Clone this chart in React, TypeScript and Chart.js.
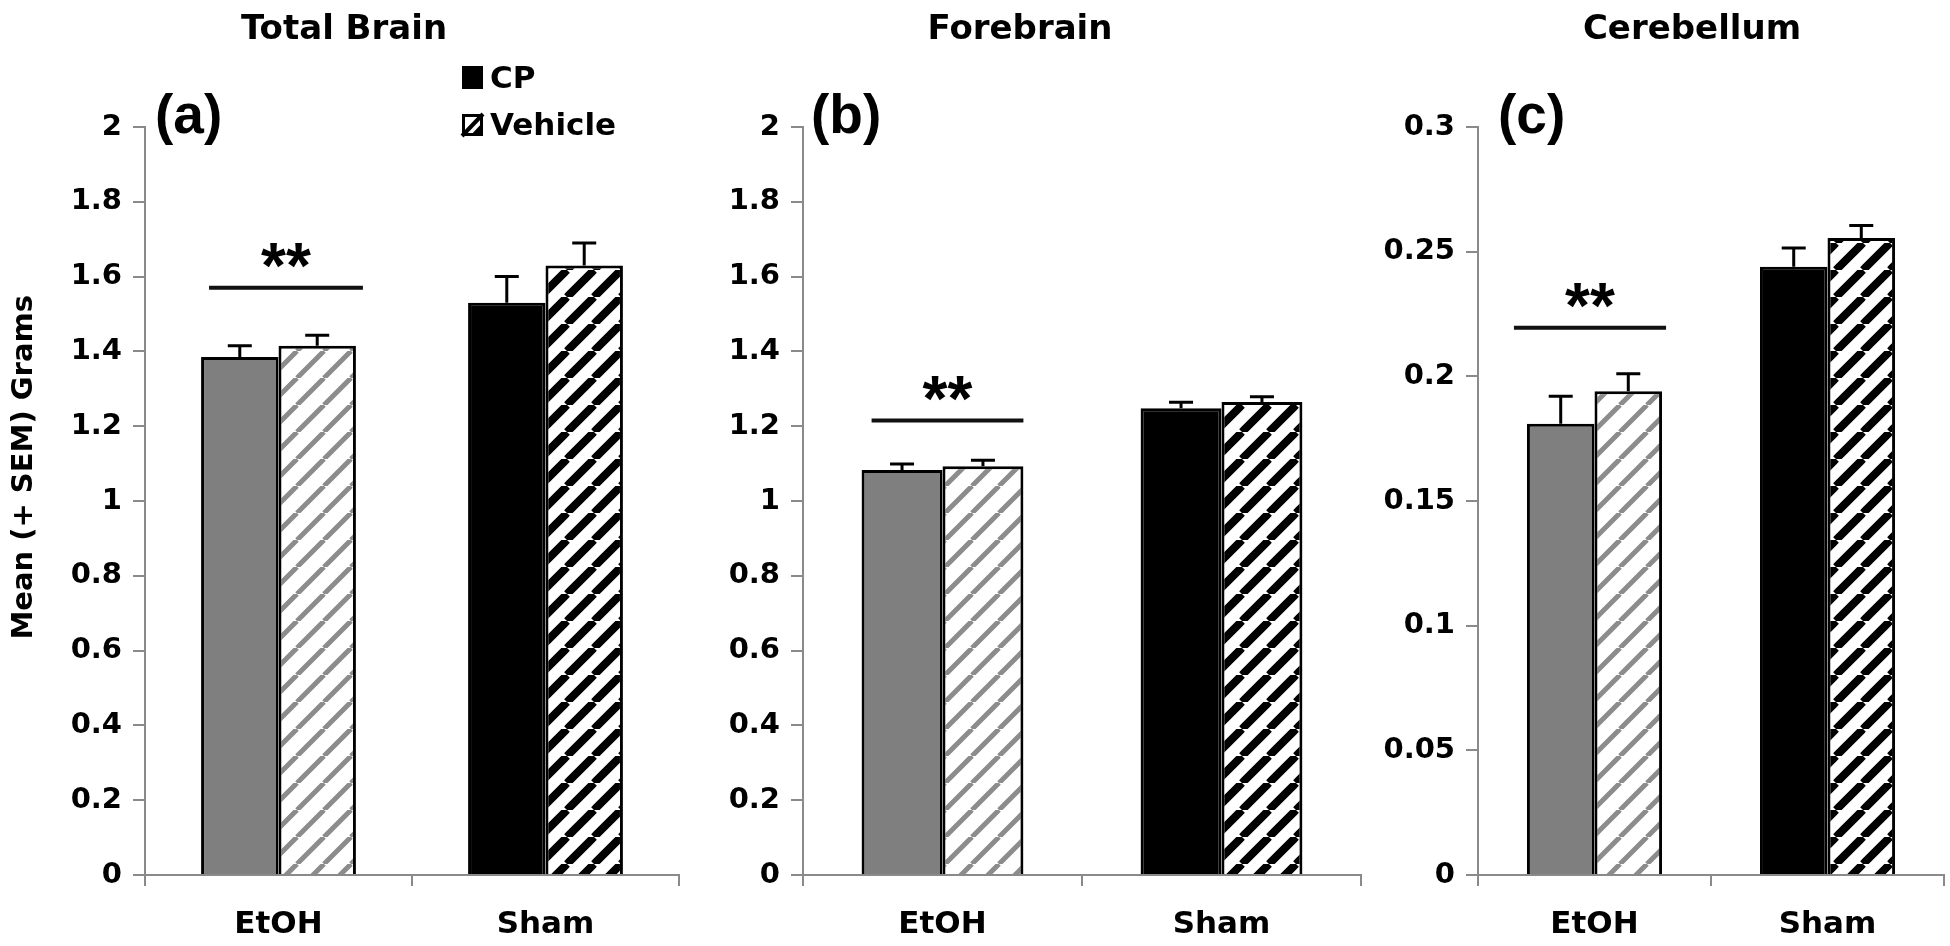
import React, { useEffect, useRef } from "react";
import { Chart, registerables } from "chart.js";

Chart.register(...registerables);

// ---------- data ----------
const categories = ["EtOH", "Sham"];
const seriesLabels = ["CP", "Vehicle"];
const panelTitles = ["Total Brain", "Forebrain", "Cerebellum"];
const panelLetters = ["(a)", "(b)", "(c)"];
const yAxisTitle = "Mean (+ SEM) Grams";
const sigLabel = "**";

const brainTicks = [0, 0.2, 0.4, 0.6, 0.8, 1, 1.2, 1.4, 1.6, 1.8, 2];
const brainTickLabels = ["0", "0.2", "0.4", "0.6", "0.8", "1", "1.2", "1.4", "1.6", "1.8", "2"];
const cereTicks = [0, 0.05, 0.1, 0.15, 0.2, 0.25, 0.3];
const cereTickLabels = ["0", "0.05", "0.1", "0.15", "0.2", "0.25", "0.3"];

const totalCP = [1.385, 1.53];
const totalCPErr = [0.03, 0.07];
const totalVehicle = [1.415, 1.63];
const totalVehicleErr = [0.028, 0.06];
const totalSig = 1.57;

const foreCP = [1.083, 1.248];
const foreCPErr = [0.016, 0.016];
const foreVehicle = [1.093, 1.265];
const foreVehicleErr = [0.016, 0.014];
const foreSig = 1.215;

const cereCP = [0.181, 0.244];
const cereCPErr = [0.011, 0.0075];
const cereVehicle = [0.194, 0.2555];
const cereVehicleErr = [0.007, 0.005];
const cereSig = 0.2195;

// ---------- layout / style ----------
const W = 1950;
const H = 946;
const PLOT_TOP = 127;
const PLOT_BOTTOM = 875;
const FONT = "'DejaVu Sans', Verdana, sans-serif";
const LETTER_FONT = "'Liberation Sans', Arial, Helvetica, sans-serif";
const AXIS_GRAY = "#8a8a8a";
const BAR_GRAY = "#7f7f7f";

const panels = [
  {
    title: panelTitles[0], letter: panelLetters[0], left: 145, right: 679, titleX: 344, letterDx: 10,
    cp: totalCP, cpErr: totalCPErr, veh: totalVehicle, vehErr: totalVehicleErr, sig: totalSig,
    ticks: brainTicks, tickLabels: brainTickLabels, max: 2, yTitle: true, legend: true, sigL: 8, sigR: 7,
  },
  {
    title: panelTitles[1], letter: panelLetters[1], left: 803, right: 1361, titleX: 1020, letterDx: 8,
    cp: foreCP, cpErr: foreCPErr, veh: foreVehicle, vehErr: foreVehicleErr, sig: foreSig,
    ticks: brainTicks, tickLabels: brainTickLabels, max: 2, yTitle: false, legend: false, sigL: 10, sigR: 0,
  },
  {
    title: panelTitles[2], letter: panelLetters[2], left: 1478, right: 1944, titleX: 1692, letterDx: 20,
    cp: cereCP, cpErr: cereCPErr, veh: cereVehicle, vehErr: cereVehicleErr, sig: cereSig,
    ticks: cereTicks, tickLabels: cereTickLabels, max: 0.3, yTitle: false, legend: false, sigL: -13, sigR: 4,
  },
];

function makeHatch(color: string, period: number, lw: number): CanvasPattern {
  const c = document.createElement("canvas");
  c.width = period;
  c.height = period;
  const g = c.getContext("2d")!;
  g.fillStyle = "#ffffff";
  g.fillRect(0, 0, period, period);
  g.strokeStyle = color;
  g.lineWidth = lw;
  g.beginPath();
  for (let k = -1; k <= 1; k++) {
    g.moveTo(k * period, period);
    g.lineTo(k * period + period, 0);
  }
  g.stroke();
  return g.createPattern(c, "repeat")!;
}

const decorPlugin = {
  id: "decor",
  afterDatasetsDraw(chart: any, _args: any, opts: any) {
    const ctx = chart.ctx as CanvasRenderingContext2D;
    const ys = chart.scales.y;
    // error bars (+SEM)
    chart.data.datasets.forEach((ds: any, di: number) => {
      const meta = chart.getDatasetMeta(di);
      meta.data.forEach((el: any, i: number) => {
        const v = ds.data[i];
        const e = ds.errs[i];
        const x = el.x;
        const y0 = el.y;
        const y1 = ys.getPixelForValue(v + e);
        ctx.save();
        ctx.strokeStyle = "#000";
        ctx.lineWidth = 3;
        ctx.beginPath();
        ctx.moveTo(x, y0);
        ctx.lineTo(x, y1);
        ctx.moveTo(x - 12, y1);
        ctx.lineTo(x + 12, y1);
        ctx.stroke();
        ctx.restore();
      });
    });
    // significance line over EtOH pair
    const a = chart.getDatasetMeta(0).data[0];
    const b = chart.getDatasetMeta(1).data[0];
    const xl = a.x - a.width / 2 + opts.sigL;
    const xr = b.x + b.width / 2 + opts.sigR;
    const yl = ys.getPixelForValue(opts.sig);
    ctx.save();
    ctx.strokeStyle = "#111";
    ctx.lineWidth = 4;
    ctx.beginPath();
    ctx.moveTo(xl, yl);
    ctx.lineTo(xr, yl);
    ctx.stroke();
    ctx.fillStyle = "#000";
    ctx.font = `bold 64px ${LETTER_FONT}`;
    ctx.textAlign = "center";
    ctx.textBaseline = "alphabetic";
    ctx.fillText(sigLabel, (xl + xr) / 2, yl);
    ctx.restore();
  },
  afterDraw(chart: any, _args: any, opts: any) {
    const ctx = chart.ctx as CanvasRenderingContext2D;
    const area = chart.chartArea;
    ctx.save();
    ctx.fillStyle = "#000";
    // panel title
    ctx.font = `bold 34px ${FONT}`;
    ctx.textAlign = "center";
    ctx.textBaseline = "middle";
    ctx.fillText(opts.title, opts.titleX, 30);
    // panel letter
    ctx.font = `bold 55px ${LETTER_FONT}`;
    ctx.textAlign = "left";
    ctx.fillText(opts.letter, area.left + opts.letterDx, 118);
    // y axis title
    if (opts.yTitle) {
      ctx.save();
      ctx.translate(24, chart.scales.y.getPixelForValue(1.09));
      ctx.rotate(-Math.PI / 2);
      ctx.font = `bold 29px ${FONT}`;
      ctx.textAlign = "center";
      ctx.textBaseline = "middle";
      ctx.fillText(yAxisTitle, 0, 0);
      ctx.restore();
    }
    // legend
    if (opts.legend) {
      const dy = 4;
      ctx.fillStyle = "#000";
      ctx.fillRect(462, 62 + dy, 21, 23);
      ctx.fillStyle = "#fff";
      ctx.fillRect(462, 110 + dy, 21, 22);
      ctx.strokeStyle = "#000";
      ctx.lineWidth = 3;
      ctx.strokeRect(463.5, 111.5 + dy, 18, 19);
      ctx.beginPath();
      ctx.moveTo(462, 132 + dy);
      ctx.lineTo(483, 110 + dy);
      ctx.lineWidth = 4;
      ctx.stroke();
      ctx.beginPath();
      ctx.fillStyle = "#000";
      ctx.moveTo(483, 118 + dy);
      ctx.lineTo(483, 132 + dy);
      ctx.lineTo(470, 132 + dy);
      ctx.closePath();
      ctx.fill();
      ctx.font = `bold 31px ${FONT}`;
      ctx.textAlign = "left";
      ctx.textBaseline = "middle";
      ctx.fillText(seriesLabels[0], 490, 76 + dy);
      ctx.fillText(seriesLabels[1], 490, 123 + dy);
    }
    ctx.restore();
  },
};

function Panel({ cfg }: { cfg: any }) {
  const ref = useRef<HTMLCanvasElement>(null);
  useEffect(() => {
    const grayHatch = makeHatch("#8c8c8c", 27, 5);
    const blackHatch = makeHatch("#000000", 27, 8);
    const yWidth = cfg.yTitle ? cfg.left : 130;
    const chart = new Chart(ref.current!, {
      type: "bar",
      data: {
        labels: categories,
        datasets: [
          {
            label: seriesLabels[0],
            data: cfg.cp,
            errs: cfg.cpErr,
            backgroundColor: [BAR_GRAY, "#000000"],
            borderColor: "#000",
            borderWidth: 3,
            barPercentage: 1,
            categoryPercentage: 0.58,
          } as any,
          {
            label: seriesLabels[1],
            data: cfg.veh,
            errs: cfg.vehErr,
            backgroundColor: [grayHatch, blackHatch],
            borderColor: "#000",
            borderWidth: 3,
            barPercentage: 1,
            categoryPercentage: 0.58,
          } as any,
        ],
      },
      options: {
        responsive: false,
        animation: false,
        layout: {
          padding: {
            left: cfg.left - yWidth,
            right: W - cfg.right,
            top: PLOT_TOP,
            bottom: 0,
          },
        },
        plugins: {
          legend: { display: false },
          tooltip: { enabled: false },
          title: { display: false },
          decor: {
            title: cfg.title,
            titleX: cfg.titleX,
            letter: cfg.letter,
            letterDx: cfg.letterDx,
            yTitle: cfg.yTitle,
            legend: cfg.legend,
            sig: cfg.sig,
            sigL: cfg.sigL,
            sigR: cfg.sigR,
          },
        } as any,
        scales: {
          x: {
            ticks: { font: { family: FONT, size: 31, weight: "bold" }, color: "#000", padding: 20 },
            grid: { drawOnChartArea: false, drawTicks: true, tickLength: 11, color: AXIS_GRAY, lineWidth: 2, offset: true },
            border: { display: true, color: AXIS_GRAY, width: 2 },
            afterFit: (s: any) => { s.height = H - PLOT_BOTTOM; },
          },
          y: {
            min: 0,
            max: cfg.max,
            afterBuildTicks: (s: any) => { s.ticks = cfg.ticks.map((v: number) => ({ value: v })); },
            ticks: {
              font: { family: FONT, size: 29, weight: "bold" },
              color: "#000",
              padding: 11,
              callback: (v: any) => {
                const idx = cfg.ticks.findIndex((t: number) => Math.abs(t - v) < 1e-9);
                return idx >= 0 ? cfg.tickLabels[idx] : "";
              },
            },
            grid: { drawOnChartArea: false, drawTicks: true, tickLength: 12, color: AXIS_GRAY, lineWidth: 2 },
            border: { display: true, color: AXIS_GRAY, width: 2 },
            afterFit: (s: any) => { s.width = yWidth; },
          },
        },
      } as any,
      plugins: [decorPlugin as any],
    });
    return () => chart.destroy();
  }, []);
  return (
    <canvas
      ref={ref}
      width={W}
      height={H}
      style={{ position: "absolute", left: 0, top: 0, width: W, height: H }}
    />
  );
}

export default function App() {
  return (
    <div style={{ position: "fixed", left: 0, top: 0, width: W, height: H, background: "#ffffff", overflow: "hidden" }}>
      {panels.map((p, i) => (
        <Panel key={i} cfg={p} />
      ))}
    </div>
  );
}
